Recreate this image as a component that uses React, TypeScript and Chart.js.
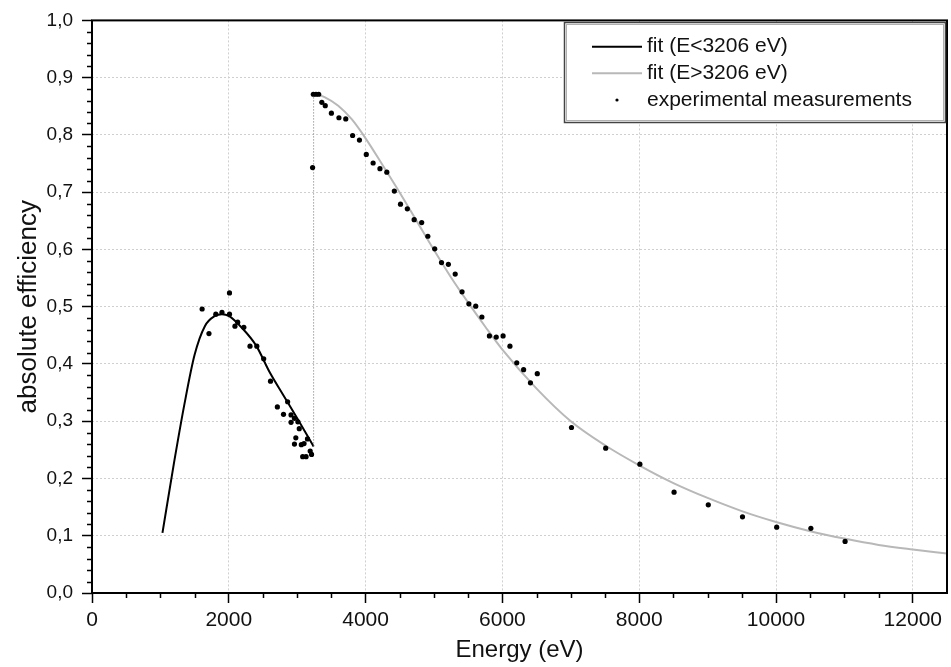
import React, { useEffect, useRef } from 'react';
import { Chart, registerables } from 'chart.js';

Chart.register(...registerables);

// ---- data ----
const fitLowEnergy = [1030, 1200, 1350, 1500, 1650, 1800, 1900, 2000, 2200, 2400, 2600, 2800, 3000, 3240];
const fitLowEff = [0.105, 0.228, 0.329, 0.416, 0.466, 0.484, 0.487, 0.484, 0.462, 0.432, 0.385, 0.345, 0.305, 0.256];

const fitHighEnergy = [3240, 3400, 3600, 3800, 4000, 4250, 4500, 4750, 5000, 5250, 5500, 5750, 6000, 6500, 7000, 7500, 8000, 8500, 9000, 9500, 10000, 10500, 11000, 11500, 12000, 12500];
const fitHighEff = [0.873, 0.866, 0.851, 0.827, 0.794, 0.747, 0.699, 0.649, 0.599, 0.551, 0.507, 0.465, 0.425, 0.357, 0.300, 0.258, 0.223, 0.192, 0.166, 0.143, 0.124, 0.108, 0.095, 0.084, 0.076, 0.069];

const measEnergy = [
  1610, 1710, 1810, 1900, 2010, 2010, 2090, 2130, 2220, 2310, 2410, 2510, 2610, 2710, 2800,
  2860, 2910, 2910, 2960, 2960, 2980, 3010, 3030, 3060, 3080, 3100, 3130, 3150, 3190, 3210,
  3225, 3236, 3275, 3314, 3360, 3410, 3500, 3610, 3710, 3810, 3910, 4010, 4110, 4210, 4310,
  4420, 4510, 4610, 4710, 4820, 4910, 5010, 5110, 5210, 5310, 5410, 5510, 5610, 5700, 5810,
  5910, 6010, 6110, 6210, 6310, 6410, 6510, 7010, 7510, 8010, 8510, 9010, 9510, 10010, 10510, 11010,
];
const measEff = [
  0.496, 0.453, 0.487, 0.490, 0.524, 0.487, 0.466, 0.473, 0.464, 0.431, 0.431, 0.409, 0.370, 0.325, 0.312,
  0.334, 0.311, 0.298, 0.305, 0.260, 0.271, 0.299, 0.287, 0.259, 0.238, 0.261, 0.238, 0.269, 0.248, 0.242,
  0.743, 0.871, 0.871, 0.871, 0.857, 0.851, 0.838, 0.830, 0.828, 0.799, 0.791, 0.766, 0.751, 0.741, 0.735,
  0.702, 0.679, 0.671, 0.652, 0.647, 0.623, 0.601, 0.577, 0.574, 0.557, 0.526, 0.505, 0.501, 0.482, 0.449,
  0.447, 0.449, 0.431, 0.402, 0.390, 0.367, 0.383, 0.289, 0.253, 0.225, 0.176, 0.154, 0.133, 0.115, 0.113, 0.090,
];

const edgeEnergy = [3240, 3240];
const edgeEff = [0.256, 0.873];

const xTickValues = [0, 2000, 4000, 6000, 8000, 10000, 12000];
const yTickValues = [0, 0.1, 0.2, 0.3, 0.4, 0.5, 0.6, 0.7, 0.8, 0.9, 1.0];
const xMinorStep = 500;
const yMinorStep = 0.02;

const legendLabels = ['fit (E<3206 eV)', 'fit (E>3206 eV)', 'experimental measurements'];
const xTitle = 'Energy (eV)';
const yTitle = 'absolute efficiency';

const FONT = '"Liberation Sans", Arial, Helvetica, sans-serif';

const toXY = (xs: number[], ys: number[]) => xs.map((x, i) => ({ x, y: ys[i] }));

const decorPlugin = {
  id: 'decor',
  afterDraw(chart: any) {
    const { ctx, chartArea } = chart;
    const { left, right, top, bottom } = chartArea;
    const xs = chart.scales.x;
    const ys = chart.scales.y;
    ctx.save();
    // minor ticks
    ctx.strokeStyle = '#000';
    ctx.lineWidth = 1.5;
    ctx.beginPath();
    for (let v = 0; v <= xs.max + 1e-9; v += xMinorStep) {
      if (xTickValues.includes(v) || v >= xs.max) continue;
      const px = Math.round(xs.getPixelForValue(v)) + 0.5;
      ctx.moveTo(px, bottom);
      ctx.lineTo(px, bottom + 5);
    }
    const nY = Math.round((ys.max - ys.min) / yMinorStep);
    for (let i = 0; i <= nY; i++) {
      if (i % 5 === 0) continue;
      const v = ys.min + i * yMinorStep;
      const py = Math.round(ys.getPixelForValue(v)) + 0.5;
      ctx.moveTo(left - 5, py);
      ctx.lineTo(left, py);
    }
    ctx.stroke();
    // frame
    ctx.lineWidth = 2;
    ctx.strokeStyle = '#000';
    ctx.strokeRect(left, top, right - left, bottom - top);

    // legend
    const bx = 564.5, by = 22.5, bw = 381, bh = 100;
    ctx.fillStyle = '#fff';
    ctx.fillRect(bx, by, bw, bh);
    ctx.lineWidth = 1.5;
    ctx.strokeStyle = '#444';
    ctx.strokeRect(bx, by, bw, bh);
    ctx.lineWidth = 1;
    ctx.strokeStyle = '#b0b0b0';
    ctx.strokeRect(bx + 2, by + 2, bw - 4, bh - 4);

    const rows = [46.7, 73.3, 100];
    const ds = chart.data.datasets;
    ctx.font = `21px ${FONT}`;
    ctx.textBaseline = 'middle';
    ctx.textAlign = 'left';
    for (let i = 0; i < 3; i++) {
      const y = rows[i];
      if (i < 2) {
        const d = ds.find((d: any) => d.label === legendLabels[i]);
        ctx.strokeStyle = d.borderColor;
        ctx.lineWidth = 2;
        ctx.beginPath();
        ctx.moveTo(592, y);
        ctx.lineTo(642, y);
        ctx.stroke();
      } else {
        ctx.fillStyle = '#000';
        ctx.beginPath();
        ctx.arc(617, y, 1.6, 0, Math.PI * 2);
        ctx.fill();
      }
      ctx.fillStyle = '#111';
      ctx.fillText(legendLabels[i], 647, y);
    }
    ctx.restore();
  },
};

export default function App() {
  const ref = useRef<HTMLCanvasElement | null>(null);

  useEffect(() => {
    if (!ref.current) return;
    const chart = new Chart(ref.current, {
      type: 'scatter',
      data: {
        datasets: [
          {
            label: legendLabels[2],
            data: toXY(measEnergy, measEff),
            showLine: false,
            pointRadius: 2.6,
            pointBackgroundColor: '#000',
            pointBorderWidth: 0,
            order: 0,
          },
          {
            label: legendLabels[0],
            data: toXY(fitLowEnergy, fitLowEff),
            showLine: true,
            borderColor: '#000',
            borderWidth: 2,
            pointRadius: 0,
            cubicInterpolationMode: 'monotone',
            order: 2,
          },
          {
            label: legendLabels[1],
            data: toXY(fitHighEnergy, fitHighEff),
            showLine: true,
            borderColor: '#b8b8b8',
            borderWidth: 2,
            pointRadius: 0,
            cubicInterpolationMode: 'monotone',
            order: 3,
          },
          {
            label: 'edge',
            data: toXY(edgeEnergy, edgeEff),
            showLine: true,
            borderColor: '#707070',
            borderWidth: 1,
            borderDash: [1, 2],
            pointRadius: 0,
            order: 1,
          },
        ] as any,
      },
      options: {
        animation: false,
        responsive: false,
        events: [],
        layout: { padding: { top: 17, right: 2, left: 0, bottom: 0 } },
        plugins: {
          legend: { display: false },
          tooltip: { enabled: false },
        },
        scales: {
          x: {
            type: 'linear',
            min: 0,
            max: 12500,
            afterBuildTicks: (s: any) => {
              s.ticks = xTickValues.map((v) => ({ value: v }));
            },
            afterFit: (s: any) => {
              s.height = 74;
            },
            ticks: {
              color: '#111',
              font: { family: FONT, size: 21 },
              padding: 5,
              maxRotation: 0,
              autoSkip: false,
              callback: (v: any) => String(v),
            },
            grid: {
              color: (c: any) => (c.tick && (c.tick.value === 0) ? 'rgba(0,0,0,0)' : '#cfcfcf'),
              lineWidth: 1,
              tickColor: '#000',
              tickLength: 10,
              tickWidth: 1.5,
            },
            border: { display: false, dash: [2, 2] },
            title: {
              display: true,
              text: xTitle,
              color: '#111',
              font: { family: FONT, size: 24 },
              padding: { top: 0, bottom: 2 },
            },
          },
          y: {
            type: 'linear',
            min: 0,
            max: 1,
            afterBuildTicks: (s: any) => {
              s.ticks = yTickValues.map((v) => ({ value: v }));
            },
            afterFit: (s: any) => {
              s.width = 92;
            },
            ticks: {
              color: '#111',
              font: { family: FONT, size: 19 },
              padding: 9,
              callback: (v: any) => Number(v).toFixed(1).replace('.', ','),
            },
            grid: {
              color: (c: any) => (c.tick && (c.tick.value === 0 || c.tick.value === 1) ? 'rgba(0,0,0,0)' : '#cfcfcf'),
              lineWidth: 1,
              tickColor: '#000',
              tickLength: 10,
              tickWidth: 1.5,
            },
            border: { display: false, dash: [2, 2] },
            title: {
              display: true,
              text: yTitle,
              color: '#111',
              font: { family: FONT, size: 26 },
              padding: { top: 13, bottom: 0 },
            },
          },
        },
      } as any,
      plugins: [decorPlugin],
    });
    return () => chart.destroy();
  }, []);

  return (
    <div style={{ position: 'fixed', left: 0, top: 0, width: 951, height: 667, background: '#fff' }}>
      <canvas ref={ref} width={951} height={667} style={{ display: 'block', width: 951, height: 667 }} />
    </div>
  );
}
